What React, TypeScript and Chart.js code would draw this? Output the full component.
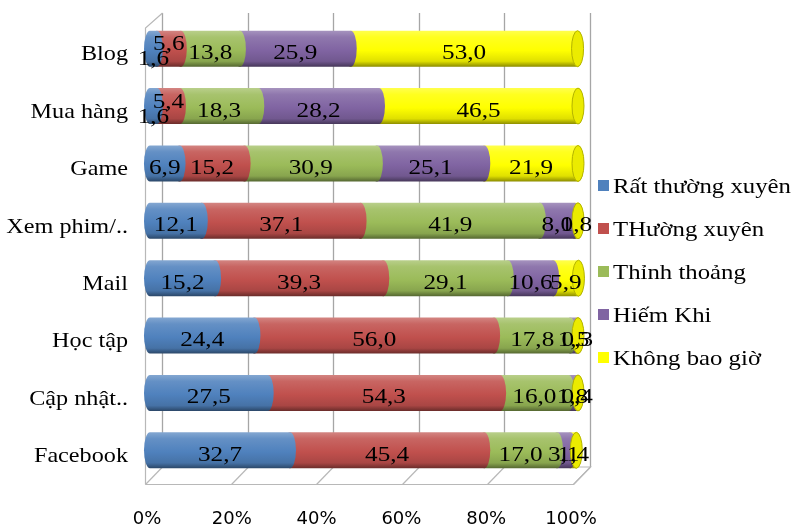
import React, { useEffect, useRef } from "react";
import { Chart, registerables } from "chart.js";

Chart.register(...registerables);

// Categories (top to bottom) and the five frequency series, in percent
const categories = ["Blog", "Mua hàng", "Game", "Xem phim/..", "Mail", "Học tập", "Cập nhật..", "Facebook"];
const seriesNames = ["Rất thường xuyên", "THường xuyên", "Thỉnh thoảng", "Hiếm Khi", "Không bao giờ"];
const ratThuongXuyen = [1.6, 1.6, 6.9, 12.1, 15.2, 24.4, 27.5, 32.7];
const thuongXuyen = [5.6, 5.4, 15.2, 37.1, 39.3, 56.0, 54.3, 45.4];
const thinhThoang = [13.8, 18.3, 30.9, 41.9, 29.1, 17.8, 16.0, 17.0];
const hiemKhi = [25.9, 28.2, 25.1, 8.1, 10.6, 1.5, 1.8, 3.1];
const khongBaoGio = [53.0, 46.5, 21.9, 0.8, 5.9, 0.3, 0.4, 1.4];
const seriesColors = ["#4F81BD", "#C0504D", "#9BBB59", "#8064A2", "#FFFF00"];
const xTicks = [0, 20, 40, 60, 80, 100];
const xTickLabels = ["0%", "20%", "40%", "60%", "80%", "100%"];

const seriesValues = [ratThuongXuyen, thuongXuyen, thinhThoang, hiemKhi, khongBaoGio];

const SERIF = "'Liberation Serif', 'DejaVu Serif', serif";
const SANS = "'DejaVu Sans', 'Liberation Sans', sans-serif";

function hexToRgb(hex: string): number[] {
  const h = hex.replace("#", "");
  return [0, 2, 4].map((i) => parseInt(h.slice(i, i + 2), 16));
}

function mix(hex: string, target: number, amount: number): string {
  const c = hexToRgb(hex).map((v) => Math.round(v + (target - v) * amount));
  return `rgb(${c[0]},${c[1]},${c[2]})`;
}

function stretchText(
  ctx: CanvasRenderingContext2D,
  text: string,
  x: number,
  y: number,
  align: CanvasTextAlign,
  sx: number
) {
  ctx.save();
  ctx.translate(x, y);
  ctx.scale(sx, 1);
  ctx.textAlign = align;
  ctx.fillText(text, 0, 0);
  ctx.restore();
}

function capsule(ctx: CanvasRenderingContext2D, x0: number, x1: number, yc: number, r: number, rx: number) {
  ctx.beginPath();
  ctx.moveTo(x0, yc - r);
  ctx.lineTo(x1, yc - r);
  ctx.ellipse(x1, yc, rx, r, 0, -Math.PI / 2, Math.PI / 2);
  ctx.lineTo(x0, yc + r);
  ctx.ellipse(x0, yc, rx, r, 0, Math.PI / 2, (3 * Math.PI) / 2);
  ctx.closePath();
}

const CAP_RX = 6;

// 3D box: back wall gridlines, left wall and floor
function drawFrame(chart: any) {
  const ctx: CanvasRenderingContext2D = chart.ctx;
  const xs = chart.scales.x;
  const area = chart.chartArea;
  const front = (v: number) => Math.round(xs.getPixelForValue(v) - 5) + 0.5;
  const back = (v: number) => Math.round(xs.getPixelForValue(v) + 12) + 0.5;
  const backTop = area.top - 7;
  const backBottom = area.bottom - 12;
  const frontTop = area.top + 8;
  const frontBottom = Math.round(area.bottom + 5) + 0.5;

  ctx.save();
  ctx.lineWidth = 1.3;
  ctx.strokeStyle = "#A6A6A6";
  xTicks.forEach((v) => {
    ctx.beginPath();
    ctx.moveTo(back(v), backTop);
    ctx.lineTo(back(v), backBottom);
    ctx.stroke();
  });
  ctx.strokeStyle = "#B8B8B8";
  ctx.lineWidth = 1.2;
  // left wall
  ctx.beginPath();
  ctx.moveTo(back(0), backTop);
  ctx.lineTo(front(0), frontTop);
  ctx.lineTo(front(0), frontBottom);
  ctx.stroke();
  // floor
  ctx.beginPath();
  ctx.moveTo(front(0), frontBottom);
  ctx.lineTo(front(100), frontBottom);
  ctx.lineTo(back(100), backBottom);
  ctx.lineTo(back(0), backBottom);
  ctx.stroke();
  xTicks.forEach((v) => {
    ctx.beginPath();
    ctx.moveTo(front(v), frontBottom);
    ctx.lineTo(back(v), backBottom);
    ctx.stroke();
  });
  ctx.restore();
}

function drawCylinders(chart: any) {
  const ctx: CanvasRenderingContext2D = chart.ctx;
  const n = chart.data.labels.length;
  const dsCount = chart.data.datasets.length;
  for (let i = 0; i < n; i++) {
    let endX = 0;
    let endColor = seriesColors[dsCount - 1];
    let yc = 0;
    let r = 0;
    for (let j = dsCount - 1; j >= 0; j--) {
      const el = chart.getDatasetMeta(j).data[i];
      const p = el.getProps(["x", "y", "base", "height"], true);
      const color = seriesColors[j];
      yc = p.y;
      r = p.height / 2;
      if (j === dsCount - 1) {
        endX = p.x;
        endColor = color;
      }
      const g = ctx.createLinearGradient(0, yc - r, 0, yc + r);
      g.addColorStop(0, mix(color, 255, 0.3));
      g.addColorStop(0.18, mix(color, 255, 0.12));
      g.addColorStop(0.55, color);
      g.addColorStop(0.85, mix(color, 0, 0.12));
      g.addColorStop(1, mix(color, 0, 0.45));
      ctx.fillStyle = g;
      capsule(ctx, p.base, p.x, yc, r, CAP_RX);
      ctx.fill();
    }
    // top face of the cylinder end
    ctx.beginPath();
    ctx.ellipse(endX, yc, CAP_RX, r, 0, 0, Math.PI * 2);
    ctx.fillStyle = mix(endColor, 0, 0.08);
    ctx.fill();
    ctx.lineWidth = 1;
    ctx.strokeStyle = mix(endColor, 0, 0.3);
    ctx.stroke();
  }
}

function fmt(v: number) {
  return v.toFixed(1).replace(".", ",");
}

function drawValueLabels(chart: any) {
  const ctx: CanvasRenderingContext2D = chart.ctx;
  const n = chart.data.labels.length;
  const dsCount = chart.data.datasets.length;
  ctx.save();
  ctx.fillStyle = "#000";
  ctx.font = `21px ${SERIF}`;
  ctx.textBaseline = "middle";
  for (let i = 0; i < n; i++) {
    const props = [];
    for (let j = 0; j < dsCount; j++) {
      props.push(chart.getDatasetMeta(j).data[i].getProps(["x", "y", "base", "height"], true));
    }
    for (let j = 0; j < dsCount; j++) {
      const p = props[j];
      let dy = 5;
      const w = p.x - p.base;
      // two narrow leading segments: lift the second label above the first
      if (j === 1 && w < 30 && props[0].x - props[0].base < 30) dy = -4;
      if (j === 0 && w < 30 && props[1].x - props[1].base < 30) dy = 11;
      stretchText(ctx, fmt(chart.data.datasets[j].data[i]), (p.x + p.base) / 2, p.y + dy, "center", 1.2);
    }
  }
  ctx.restore();
}

function drawAxisText(chart: any) {
  const ctx: CanvasRenderingContext2D = chart.ctx;
  const xs = chart.scales.x;
  const ys = chart.scales.y;
  ctx.save();
  ctx.fillStyle = "#000";
  ctx.textBaseline = "middle";
  ctx.font = `22px ${SERIF}`;
  chart.data.labels.forEach((label: string, i: number) => {
    const y = ys.getPixelForValue(i) + 6;
    stretchText(ctx, label, 128, y, "right", 1.1);
  });
  ctx.font = `18px ${SANS}`;
  xTicks.forEach((v, k) => {
    stretchText(ctx, xTickLabels[k], xs.getPixelForValue(v) - 3 - 0.04 * v, 519, "center", 1);
  });
  // legend
  const legendX = 598;
  const legendY = 186;
  const step = 43;
  ctx.font = `21px ${SERIF}`;
  seriesNames.forEach((name, k) => {
    const y = legendY + k * step;
    ctx.fillStyle = seriesColors[k];
    ctx.fillRect(legendX, y - 6, 11, 11);
    ctx.fillStyle = "#000";
    stretchText(ctx, name, legendX + 15, y + 1, "left", 1.18);
  });
  ctx.restore();
}

const cylinderPlugin = {
  id: "cylinderBars",
  beforeDatasetsDraw(chart: any) {
    drawFrame(chart);
  },
  beforeDatasetDraw() {
    return false;
  },
  afterDatasetsDraw(chart: any) {
    drawCylinders(chart);
    drawValueLabels(chart);
  },
  afterDraw(chart: any) {
    drawAxisText(chart);
  },
};

export default function App() {
  const canvasRef = useRef<HTMLCanvasElement | null>(null);

  useEffect(() => {
    if (!canvasRef.current) return;
    const chart = new Chart(canvasRef.current, {
      type: "bar",
      data: {
        labels: categories,
        datasets: seriesNames.map((name, j) => ({
          label: name,
          data: seriesValues[j],
          backgroundColor: seriesColors[j],
          barThickness: 36,
        })),
      },
      options: {
        indexAxis: "y",
        responsive: false,
        animation: false,
        devicePixelRatio: 1,
        layout: { padding: { left: 150, right: 218, top: 20, bottom: 50 } },
        plugins: {
          legend: { display: false },
          tooltip: { enabled: false },
        },
        scales: {
          x: { display: false, stacked: true, min: 0, max: 100 },
          y: { display: false, stacked: true },
        },
      },
      plugins: [cylinderPlugin],
    });
    return () => chart.destroy();
  }, []);

  return (
    <div style={{ position: "absolute", left: 0, top: 0, width: 796, height: 529, background: "#fff" }}>
      <canvas ref={canvasRef} width={796} height={529} />
    </div>
  );
}
